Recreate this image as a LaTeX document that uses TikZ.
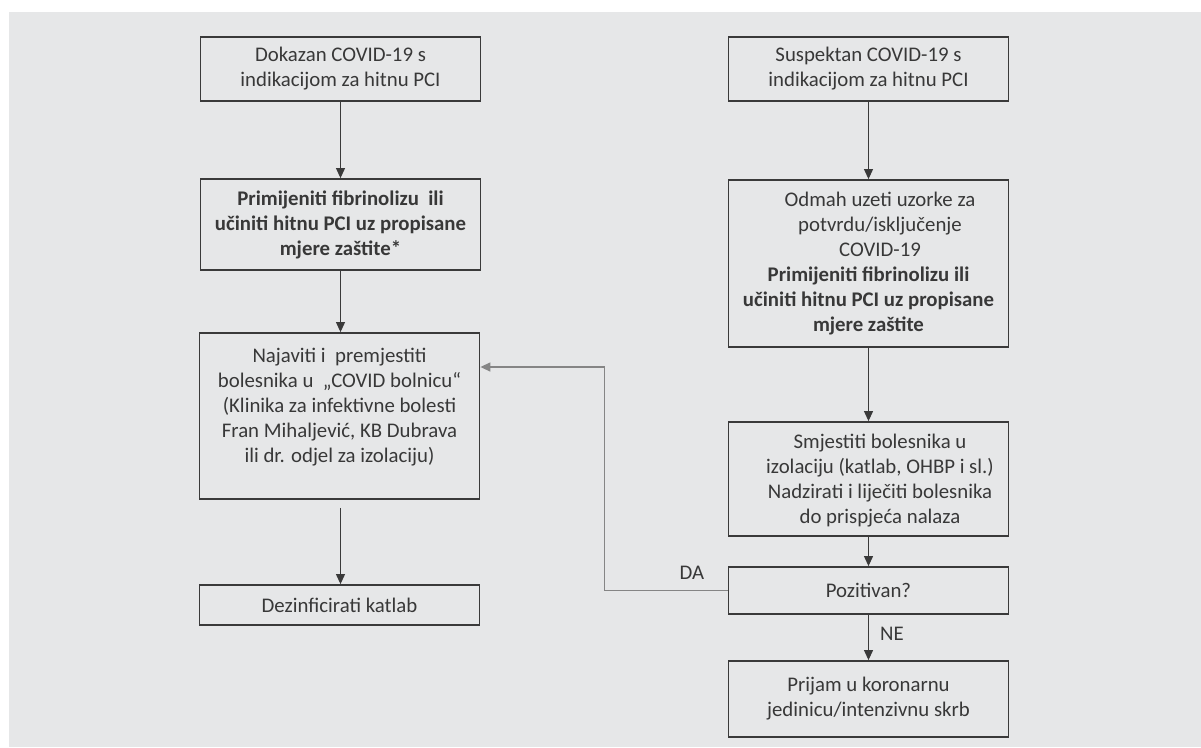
\documentclass[tikz,border=0pt]{standalone}
\usepackage{fontspec}
\setmainfont{Carlito}
\usetikzlibrary{arrows.meta}
\definecolor{bg}{HTML}{E6E7E8}
\definecolor{ink}{HTML}{3A3A3A}
\definecolor{txt}{HTML}{383838}
\definecolor{fbgray}{HTML}{858585}
\begin{document}
\begin{tikzpicture}[x=1pt,y=-1pt,
  box/.style={draw=ink, line width=1.8pt, fill=bg, text=txt, align=center,
    inner sep=0pt, minimum width=280pt, font=\fontsize{20.8}{25}\selectfont},
  plain/.style={text=txt, align=center, inner sep=0pt, font=\fontsize{20.8}{25}\selectfont},
  arr/.style={draw=ink, line width=1pt, -{Triangle[width=9pt,length=10pt]}},
  fbarr/.style={draw=fbgray, line width=1.4pt, -{Triangle[width=9pt,length=10pt]}},
  lbl/.style={text=txt, inner sep=0pt, font=\fontsize{20.8}{25}\selectfont}]
\useasboundingbox (0,0) rectangle (1201,747);
\fill[white] (0,0) rectangle (1201,747);
\fill[bg] (9,12) rectangle (1201,747);

% left column
\node[box, minimum height=64pt] (L1) at (340.5,69) {Dokazan COVID-19 s\\indikacijom za hitnu PCI};
\node[box, minimum height=91pt] (L2) at (340.5,224.5) {\bfseries Primijeniti fibrinolizu\ \ ili\\\bfseries učiniti hitnu PCI uz propisane\\\bfseries mjere zaštite*};
\node[box, minimum height=166pt] (L3) at (339.5,416) {};
\node[plain] (L3t) at ([yshift=9pt]L3.center) {Najaviti i\ \ premjestiti\\bolesnika u\ \ „COVID bolnicu“\\(Klinika za infektivne bolesti\\Fran Mihaljević, KB Dubrava\\ili dr. odjel za izolaciju)};
\node[box, minimum height=40pt] (L4) at (339.5,605) {Dezinficirati katlab};

% right column
\node[box, minimum height=64pt] (R1) at (868.5,69) {Suspektan COVID-19 s\\indikacijom za hitnu PCI};
\node[box, minimum height=167pt] (R2) at (868.5,263.5) {\hspace*{23pt}Odmah uzeti uzorke za\\\hspace*{23pt}potvrdu/isključenje\\\hspace*{23pt}COVID-19\\\bfseries Primijeniti fibrinolizu ili\\\bfseries učiniti hitnu PCI uz propisane\\\bfseries mjere zaštite};
\node[box, minimum height=114pt] (R3) at (868.5,479) {};
\node[plain] (R3t) at ([xshift=11.5pt,yshift=-1.5pt]R3.center) {Smjestiti bolesnika u\\izolaciju (katlab, OHBP i sl.)\\Nadzirati i liječiti bolesnika\\do prispjeća nalaza};
\node[box, minimum height=47pt] (R4) at (868.5,590.5) {Pozitivan?};
\node[box, minimum height=76pt] (R5) at (868.5,699) {Prijam u koronarnu\\jedinicu/intenzivnu skrb};

% connectors
\draw[arr] (L1.south) -- (L2.north -| L1.south);
\draw[arr] (L2.south) -- (L3.north -| L2.south);
\draw[arr] ([yshift=-8pt]L3.south -| L2.south) -- (L4.north -| L2.south);
\draw[arr] (R1.south) -- (R2.north);
\draw[arr] (R2.south) -- (R3.north);
\draw[arr] (R3.south) -- (R4.north);
\draw[arr] (R4.south) -- (R5.north);

\coordinate (fbc) at (604.5,367);
\draw[fbarr] (R4.west) -| (fbc) -- (L3.east |- fbc);

\node[lbl] (da) at (692,573) {DA};
\node[lbl] (ne) at (892,634) {NE};
\end{tikzpicture}
\end{document}
